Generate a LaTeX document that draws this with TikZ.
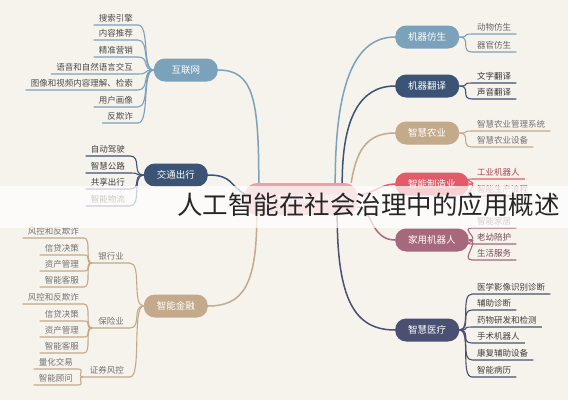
\documentclass[tikz,border=0pt]{standalone}
\usepackage{fontspec}
\setmainfont{Noto Sans CJK SC}
\usepackage{tikz}
\definecolor{bgcream}{HTML}{F6F2EC}
\definecolor{skyblue}{HTML}{7BA2BB}
\definecolor{navyblue}{HTML}{3B5374}
\definecolor{sandtan}{HTML}{C2AA8B}
\definecolor{rosered}{HTML}{E25B68}
\definecolor{mauve}{HTML}{A7687B}
\definecolor{slate}{HTML}{4A5071}
\definecolor{corepink}{HTML}{E9A2A5}

\begin{document}
\begin{tikzpicture}[x=1pt,y=-1pt,
    topic/.style={rounded corners=11pt,minimum height=23pt,minimum width=64pt,inner xsep=13pt,text=white,font=\fontsize{9.5}{11}\selectfont},
    leaf/.style={inner xsep=5pt,inner ysep=2.5pt,font=\fontsize{8.5}{10}\selectfont},
    trunk/.style={line width=1.5pt},
    twig/.style={line width=1.1pt}]
    \fill[bgcream] (0,0) rectangle (568,400);

    \node[topic,fill=corepink,minimum width=112pt,minimum height=32pt,rounded corners=12pt] (c) at (301,199) {人工智能的应用领域};
    \node[topic,fill=skyblue,anchor=east] (net) at (218,70) {互联网};
    \node[topic,fill=navyblue,anchor=east] (traffic) at (208,175) {交通出行};
    \node[topic,fill=sandtan,anchor=east] (fin) at (208,306) {智能金融};
    \node[topic,fill=skyblue,anchor=west] (sim) at (395,37) {机器仿生};
    \node[topic,fill=navyblue,anchor=west] (trans) at (395,86) {机器翻译};
    \node[topic,fill=sandtan,anchor=west] (agri) at (395,133) {智慧农业};
    \node[topic,fill=rosered,anchor=west] (manu) at (395,184) {智能制造业};
    \node[topic,fill=mauve,anchor=west] (home) at (395,240) {家用机器人};
    \node[topic,fill=slate,anchor=west] (med) at (395,330) {智慧医疗};

    \draw[trunk,skyblue] ([xshift=14pt]c.north west) .. controls +(0,-85) and +(35,0) .. (net.east);
    \draw[trunk,navyblue] ([yshift=5pt]c.west) .. controls +(-15,-8) and +(25,0) .. (traffic.east);
    \draw[trunk,sandtan] ([xshift=12pt]c.south west) .. controls +(0,70) and +(35,0) .. (fin.east);
    \draw[trunk,skyblue] ([xshift=-22pt]c.north east) .. controls +(0,-100) and +(-40,0) .. (sim.west);
    \draw[trunk,navyblue] ([xshift=-15pt]c.north east) .. controls +(0,-65) and +(-35,0) .. (trans.west);
    \draw[trunk,sandtan] ([xshift=-6pt]c.north east) .. controls +(5,-30) and +(-30,0) .. (agri.west);
    \draw[trunk,rosered] ([yshift=4pt]c.east) .. controls +(15,0) and +(-15,0) .. (manu.west);
    \draw[trunk,mauve] ([yshift=-8pt]c.east) .. controls +(15,0) and +(-25,0) .. (home.west);
    \draw[trunk,slate] ([xshift=-20pt]c.south east) .. controls +(0,85) and +(-40,0) .. (med.west);

    \foreach \nm/\yy/\tx in {i1/25/搜索引擎,i2/40/内容推荐,i3/57/精准营销,i4/74/语音和自然语言交互,i5/90/图像和视频内容理解、检索,i6/107/用户画像,i7/123/反欺诈}{
      \node[leaf,anchor=south east,text=black!70] (\nm) at (138,\yy) {\tx};
      \draw[twig,skyblue] (net.west) .. controls +(-12,0) and +(12,0) .. (\nm.south east) -- (\nm.south west);
    }
    \foreach \nm/\yy/\tx in {t1/156/自动驾驶,t2/173/智慧公路,t3/189/共享出行,t4/206/智能物流}{
      \node[leaf,anchor=south east,text=black!75] (\nm) at (130,\yy) {\tx};
      \draw[twig,navyblue] (traffic.west) .. controls +(-12,0) and +(12,0) .. (\nm.south east) -- (\nm.south west);
    }

    \node[leaf,anchor=south east,inner xsep=6pt,text=black!55] (bank) at (130,263) {银行业};
    \node[leaf,anchor=south east,inner xsep=6pt,text=black!55] (insure) at (130,328) {保险业};
    \node[leaf,anchor=south east,inner xsep=6pt,text=black!55] (stock) at (130,377) {证券风控};
    \foreach \sb in {bank,insure,stock}
      \draw[twig,sandtan] (fin.west) .. controls +(-12,0) and +(12,0) .. (\sb.south east) -- (\sb.south west);
    \foreach \nm/\yy/\tx in {b1/238/风控和反欺诈,b2/255/信贷决策,b3/271/资产管理,b4/287/智能客服}{
      \node[leaf,anchor=south east,text=black!55] (\nm) at (84,\yy) {\tx};
      \draw[twig,sandtan] (bank.south west) .. controls +(-8,0) and +(8,0) .. (\nm.south east) -- (\nm.south west);
    }
    \foreach \nm/\yy/\tx in {s1/304/风控和反欺诈,s2/321/信贷决策,s3/337/资产管理,s4/353/智能客服}{
      \node[leaf,anchor=south east,text=black!55] (\nm) at (84,\yy) {\tx};
      \draw[twig,sandtan] (insure.south west) .. controls +(-8,0) and +(8,0) .. (\nm.south east) -- (\nm.south west);
    }
    \foreach \nm/\yy/\tx in {q1/369/量化交易,q2/385/智能顾问}{
      \node[leaf,anchor=south east,text=black!55] (\nm) at (78,\yy) {\tx};
      \draw[twig,sandtan] (stock.south west) .. controls +(-8,0) and +(8,0) .. (\nm.south east) -- (\nm.south west);
    }

    \foreach \nm/\yy/\tx in {a1/34/动物仿生,a2/52/器官仿生}{
      \node[leaf,anchor=south west,text=black!60] (\nm) at (472,\yy) {\tx};
      \draw[twig,skyblue] (sim.east) .. controls +(12,0) and +(-12,0) .. (\nm.south west) -- (\nm.south east);
    }
    \foreach \nm/\yy/\tx in {r1/83/文字翻译,r2/99/声音翻译}{
      \node[leaf,anchor=south west,text=black!80] (\nm) at (472,\yy) {\tx};
      \draw[twig,navyblue] (trans.east) .. controls +(12,0) and +(-12,0) .. (\nm.south west) -- (\nm.south east);
    }
    \foreach \nm/\yy/\tx in {g1/131/智慧农业管理系统,g2/147/智慧农业设备}{
      \node[leaf,anchor=south west,text=black!55] (\nm) at (472,\yy) {\tx};
      \draw[twig,sandtan] (agri.east) .. controls +(12,0) and +(-12,0) .. (\nm.south west) -- (\nm.south east);
    }
    \foreach \nm/\yy/\tx in {m1/179/工业机器人,m2/196/智能生产流程}{
      \node[leaf,anchor=south west,text=rosered!75!black] (\nm) at (472,\yy) {\tx};
      \draw[twig,rosered] (manu.east) .. controls +(12,0) and +(-12,0) .. (\nm.south west) -- (\nm.south east);
    }
    \foreach \nm/\yy/\tx in {h1/228/智能家居,h2/244/老幼陪护,h3/260/生活服务}{
      \node[leaf,anchor=south west,text=mauve!70!black] (\nm) at (472,\yy) {\tx};
      \draw[twig,mauve] (home.east) .. controls +(12,0) and +(-12,0) .. (\nm.south west) -- (\nm.south east);
    }
    \foreach \nm/\yy/\tx in {d1/294/医学影像识别诊断,d2/310/辅助诊断,d3/327/药物研发和检测,d4/343/手术机器人,d5/360/康复辅助设备,d6/377/智能病历}{
      \node[leaf,anchor=south west,text=black!75] (\nm) at (472,\yy) {\tx};
      \draw[twig,slate] (med.east) .. controls +(12,0) and +(-12,0) .. (\nm.south west) -- (\nm.south east);
    }

    \fill[white,opacity=0.72] (0,186) rectangle (568,228);
    \node[anchor=west,inner sep=0pt,font=\fontsize{25.5}{28}\selectfont,text=black!85] (title) at (177,205) {人工智能在社会治理中的应用概述};
\end{tikzpicture}
\end{document}
